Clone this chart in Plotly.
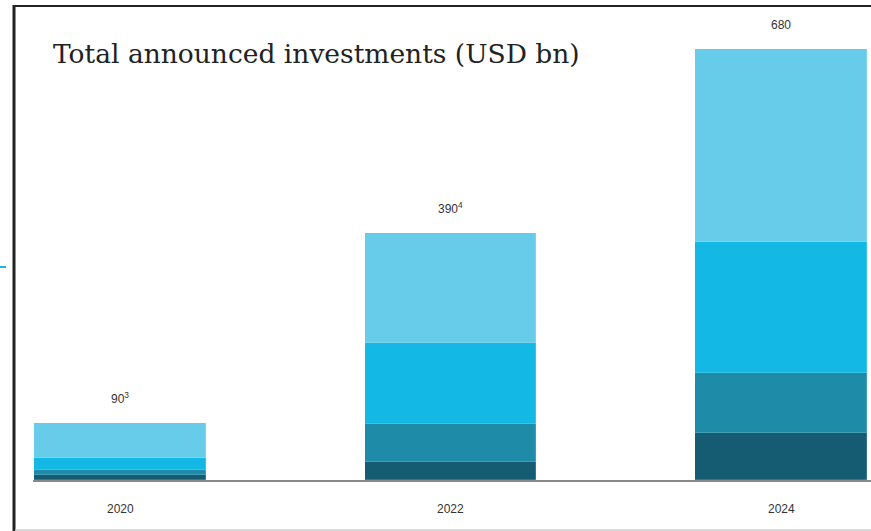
import plotly.graph_objects as go

# Data
years = ["2020", "2022", "2024"]
totals = [90, 390, 680]
total_labels = ["90<sup>3</sup>", "390<sup>4</sup>", "680"]
seg_dark = [8, 28, 74]
seg_teal = [7, 60, 95]
seg_bright = [19, 128, 207]
seg_light = [56, 174, 304]

colors = ["#155b71", "#1e8ba8", "#13b9e4", "#66cce9"]

W, H = 871, 531
px = lambda v: v / W
py = lambda v: 1 - v / H

xpos = [0, 1, 2]
fig = go.Figure()
for vals, col in zip([seg_dark, seg_teal, seg_bright, seg_light], colors):
    fig.add_trace(go.Bar(
        x=xpos, y=vals, width=0.52, marker_color=col,
        marker_line=dict(color="rgba(255,255,255,0.2)", width=0.8),
        hoverinfo="skip", showlegend=False,
    ))

annotations = []
for x, t, lab in zip(xpos, totals, total_labels):
    annotations.append(dict(x=x, y=t, xref="x", yref="y", text=lab, showarrow=False,
                            yanchor="bottom", yshift=15,
                            font=dict(family="Liberation Sans", size=12, color="#333")))
for x, yr in zip(xpos, years):
    annotations.append(dict(x=x, y=py(509), xref="x", yref="paper", text=yr, showarrow=False,
                            yanchor="middle",
                            font=dict(family="Liberation Sans", size=12, color="#333")))
annotations.append(dict(x=px(51), y=py(53), xref="paper", yref="paper", xanchor="left",
                        yanchor="middle", showarrow=False,
                        text="Total announced investments (USD bn)",
                        font=dict(family="DejaVu Serif", size=26.5, color="#222")))

shapes = [
    dict(type="line", xref="paper", yref="paper", x0=px(14), x1=px(14), y0=py(5), y1=py(531),
         line=dict(color="#222", width=3)),
    dict(type="line", xref="paper", yref="paper", x0=px(13), x1=1, y0=py(6), y1=py(6),
         line=dict(color="#222", width=2)),
    dict(type="line", xref="paper", yref="paper", x0=px(15), x1=1, y0=py(530), y1=py(530),
         line=dict(color="#cccccc", width=1.5)),
    dict(type="line", xref="paper", yref="paper", x0=0, x1=px(6), y0=py(267), y1=py(267),
         line=dict(color="#13b9e4", width=2)),
]

scale = 0.634
fig.update_layout(
    width=W, height=H, margin=dict(l=0, r=0, t=0, b=0),
    paper_bgcolor="white", plot_bgcolor="white",
    barmode="stack", bargap=0,
    xaxis=dict(domain=[px(33), 1], range=[-87 / 330.5, 838 / 330.5 - 87 / 330.5],
               showticklabels=False, showgrid=False, zeroline=False,
               showline=True, linecolor="#888", linewidth=1.5, fixedrange=True),
    yaxis=dict(domain=[py(480), 1], range=[0, 480 / scale], visible=False, fixedrange=True),
    annotations=annotations, shapes=shapes,
)

fig.write_html("out.html")
